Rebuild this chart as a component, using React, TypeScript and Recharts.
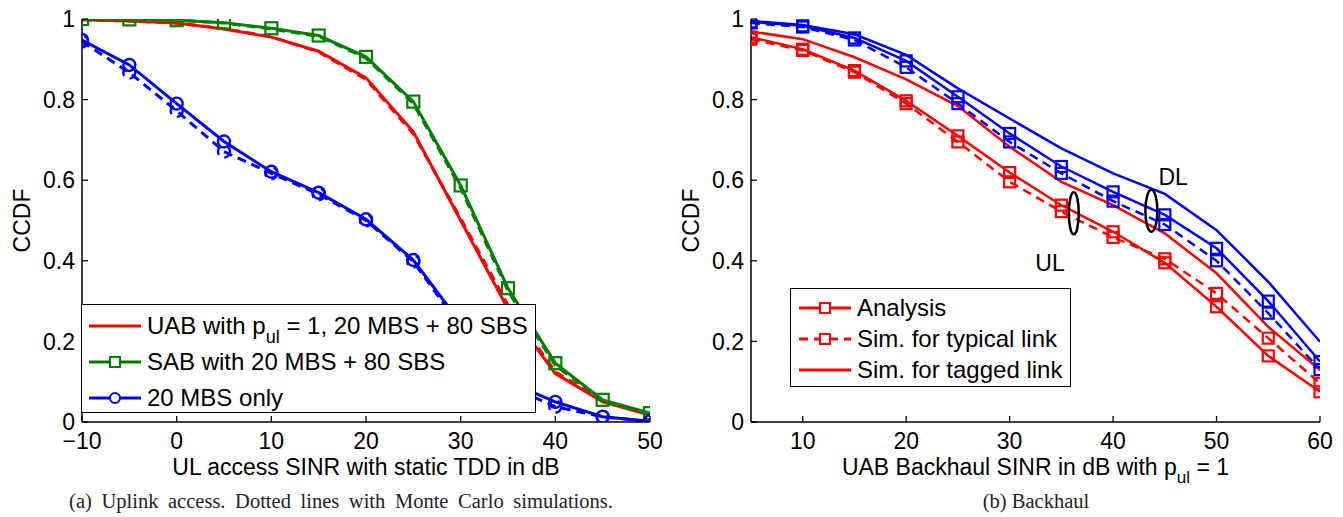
import React from 'react';
import { LineChart, Line, XAxis, YAxis, Legend, ReferenceDot } from 'recharts';

const FONT = '"Liberation Sans", Arial, Helvetica, sans-serif';
const SERIF = '"Liberation Serif", "Times New Roman", serif';
const RED = '#ff0000';
const GREEN = '#008000';
const BLUE = '#0000ff';
const TICK = 6;
const FS = 23;
const LFS = 24;

// ---------- (a) Uplink access ----------
const accessSinr = [-10, -5, 0, 5, 10, 15, 20, 25, 30, 35, 40, 45, 50];
const uabAnalysis = [0.998, 0.995, 0.99, 0.975, 0.955, 0.92, 0.854, 0.72, 0.5, 0.28, 0.12, 0.05, 0.017];
const uabSim = [0.998, 0.995, 0.99, 0.976, 0.956, 0.918, 0.85, 0.715, 0.505, 0.29, 0.125, 0.052, 0.018];
const sabAnalysis = [1.0, 0.999, 0.997, 0.991, 0.977, 0.959, 0.906, 0.795, 0.587, 0.332, 0.146, 0.055, 0.022];
const sabSim = [1.0, 0.999, 0.997, 0.99, 0.975, 0.957, 0.903, 0.79, 0.58, 0.325, 0.14, 0.052, 0.02];
const mbsAnalysis = [0.948, 0.886, 0.79, 0.696, 0.621, 0.569, 0.503, 0.402, 0.245, 0.1, 0.05, 0.013, 0.002];
const mbsSim = [0.944, 0.867, 0.772, 0.671, 0.617, 0.565, 0.5, 0.398, 0.235, 0.09, 0.038, 0.013, 0.001];
const leftXTicks = [-10, 0, 10, 20, 30, 40, 50];
const leftLegendLabels = ['UAB with p', 'SAB with 20 MBS + 80 SBS', '20 MBS only'];

// ---------- (b) Backhaul ----------
const backhaulSinr = [5, 10, 15, 20, 25, 30, 35, 40, 45, 50, 55, 60];
const dlAnalysis = [0.993, 0.983, 0.953, 0.896, 0.807, 0.716, 0.634, 0.571, 0.514, 0.431, 0.3, 0.15];
const dlTypical = [0.99, 0.98, 0.948, 0.88, 0.79, 0.695, 0.617, 0.548, 0.49, 0.4, 0.27, 0.13];
const dlTagged = [0.995, 0.985, 0.962, 0.911, 0.828, 0.753, 0.679, 0.617, 0.566, 0.476, 0.348, 0.199];
const ulAnalysis = [0.955, 0.925, 0.872, 0.797, 0.71, 0.619, 0.538, 0.472, 0.395, 0.286, 0.164, 0.075];
const ulTypical = [0.95, 0.922, 0.868, 0.79, 0.695, 0.596, 0.522, 0.458, 0.405, 0.319, 0.208, 0.096];
const ulTagged = [0.969, 0.95, 0.905, 0.85, 0.784, 0.683, 0.596, 0.538, 0.468, 0.369, 0.236, 0.129];
const rightXTicks = [10, 20, 30, 40, 50, 60];
const rightLegendLabels = ['Analysis', 'Sim. for typical link', 'Sim. for tagged link'];
const ulEllipse = { x: 36.2, y: 0.518 };
const dlEllipse = { x: 43.7, y: 0.524 };
const dlText = { x: 45.8, y: 0.609, label: 'DL' };
const ulText = { x: 33.9, y: 0.394, label: 'UL' };

const yTicks = [0, 0.2, 0.4, 0.6, 0.8, 1];

const leftData = accessSinr.map((x, i) => ({
  x,
  uabA: uabAnalysis[i],
  uabS: uabSim[i],
  sabA: sabAnalysis[i],
  sabS: sabSim[i],
  mbsA: mbsAnalysis[i],
  mbsS: mbsSim[i],
}));

const rightData = backhaulSinr.map((x, i) => ({
  x,
  dlA: dlAnalysis[i],
  dlT: dlTypical[i],
  dlG: dlTagged[i],
  ulA: ulAnalysis[i],
  ulT: ulTypical[i],
  ulG: ulTagged[i],
}));

const fmt = (v: number) => (v < 0 ? '\u2212' + Math.abs(v) : String(v));

const BottomTick = (p: any) => (
  <g>
    <line x1={p.x} y1={p.y} x2={p.x} y2={p.y - TICK} stroke="#000" strokeWidth={1.3} />
    <text x={p.x} y={p.y + 27} textAnchor="middle" fontSize={FS} fontFamily={FONT} fill="#000">
      {fmt(p.payload.value)}
    </text>
  </g>
);
const TopTick = (p: any) => (
  <line x1={p.x} y1={p.y} x2={p.x} y2={p.y + TICK} stroke="#000" strokeWidth={1.3} />
);
const LeftTick = (p: any) => (
  <g>
    <line x1={p.x} y1={p.y} x2={p.x + TICK} y2={p.y} stroke="#000" strokeWidth={1.3} />
    <text x={p.x - 7} y={p.y} dy="0.36em" textAnchor="end" fontSize={FS} fontFamily={FONT} fill="#000">
      {fmt(p.payload.value)}
    </text>
  </g>
);
const RightTick = (p: any) => (
  <line x1={p.x} y1={p.y} x2={p.x - TICK} y2={p.y} stroke="#000" strokeWidth={1.3} />
);

const YLabel = (p: any) => {
  const vb = p.viewBox;
  const x = vb.x + vb.width - 52;
  const y = vb.y + vb.height / 2;
  return (
    <text x={x} y={y} transform={`rotate(-90 ${x} ${y})`} textAnchor="middle" fontSize={FS} fontFamily={FONT} fill="#000">
      CCDF
    </text>
  );
};

const LeftXLabel = (p: any) => {
  const vb = p.viewBox;
  return (
    <text x={vb.x + vb.width / 2} y={vb.y + 53} textAnchor="middle" fontSize={FS} fontFamily={FONT} fill="#000">
      UL access SINR with static TDD in dB
    </text>
  );
};

const RightXLabel = (p: any) => {
  const vb = p.viewBox;
  return (
    <text x={vb.x + vb.width / 2} y={vb.y + 53} textAnchor="middle" fontSize={FS} fontFamily={FONT} fill="#000">
      UAB Backhaul SINR in dB with p
      <tspan dy={8} fontSize={17}>ul</tspan>
      <tspan dy={-8}> = 1</tspan>
    </text>
  );
};

const squareDot = (color: string, size: number) => (p: any) => (
  <rect
    key={p.index}
    x={p.cx - size / 2}
    y={p.cy - size / 2}
    width={size}
    height={size}
    fill="none"
    stroke={color}
    strokeWidth={2.2}
  />
);

const Sym = ({ color, marker, dashed }: { color: string; marker?: 'square' | 'circle'; dashed?: boolean }) => (
  <svg width={52} height={20} style={{ display: 'block', flex: '0 0 auto' }}>
    <line x1={0} y1={10} x2={52} y2={10} stroke={color} strokeWidth={3} strokeDasharray={dashed ? '9 6' : undefined} />
    {marker === 'square' && <rect x={21} y={5} width={10} height={10} fill="#fff" stroke={color} strokeWidth={2} />}
    {marker === 'circle' && <circle cx={26} cy={10} r={5} fill="#fff" stroke={color} strokeWidth={2} />}
  </svg>
);

const rowStyle: React.CSSProperties = { display: 'flex', alignItems: 'center', whiteSpace: 'nowrap' };
const textStyle: React.CSSProperties = { marginLeft: 6, fontSize: LFS, fontFamily: FONT, color: '#000' };

const LeftLegend = () => (
  <div
    style={{
      width: 455,
      height: 109,
      boxSizing: 'border-box',
      border: '1.5px solid #000',
      background: '#fff',
      paddingTop: 3,
      paddingLeft: 7,
    }}
  >
    <div style={{ ...rowStyle, height: 36 }}>
      <Sym color={RED} />
      <span style={textStyle}>
        {leftLegendLabels[0]}
        <span style={{ fontSize: 18, position: 'relative', top: 9 }}>ul</span> = 1, 20 MBS + 80 SBS
      </span>
    </div>
    <div style={{ ...rowStyle, height: 36 }}>
      <Sym color={GREEN} marker="square" />
      <span style={textStyle}>{leftLegendLabels[1]}</span>
    </div>
    <div style={{ ...rowStyle, height: 36 }}>
      <Sym color={BLUE} marker="circle" />
      <span style={textStyle}>{leftLegendLabels[2]}</span>
    </div>
  </div>
);

const RightLegend = () => (
  <div
    style={{
      width: 281,
      height: 99,
      boxSizing: 'border-box',
      border: '1.5px solid #000',
      background: '#fff',
      paddingTop: 3,
      paddingLeft: 8,
    }}
  >
    <div style={{ ...rowStyle, height: 31 }}>
      <Sym color={RED} marker="square" />
      <span style={textStyle}>{rightLegendLabels[0]}</span>
    </div>
    <div style={{ ...rowStyle, height: 31 }}>
      <Sym color={RED} marker="square" dashed />
      <span style={textStyle}>{rightLegendLabels[1]}</span>
    </div>
    <div style={{ ...rowStyle, height: 31 }}>
      <Sym color={RED} />
      <span style={textStyle}>{rightLegendLabels[2]}</span>
    </div>
  </div>
);

const axisLine = { stroke: '#000', strokeWidth: 1.5 };

const captionStyle: React.CSSProperties = {
  position: 'absolute',
  top: 491,
  textAlign: 'center',
  fontFamily: SERIF,
  fontSize: 20.5,
  lineHeight: '20px',
  color: '#222',
  whiteSpace: 'nowrap',
};

export default function App() {
  return (
    <div style={{ position: 'absolute', left: 0, top: 0, width: 1343, height: 517, background: '#fff' }}>
      <div style={{ position: 'absolute', left: 0, top: 0 }}>
        <LineChart width={700} height={517} data={leftData} margin={{ top: 19, right: 50, bottom: 0, left: 0 }}>
          <XAxis
            dataKey="x"
            type="number"
            domain={[-10, 50]}
            ticks={leftXTicks}
            interval={0}
            allowDataOverflow
            height={95}
            tickSize={0}
            tickMargin={0}
            tickLine={false}
            axisLine={axisLine}
            tick={BottomTick}
            label={<LeftXLabel />}
          />
          <XAxis
            xAxisId="top"
            orientation="top"
            dataKey="x"
            type="number"
            domain={[-10, 50]}
            ticks={leftXTicks}
            interval={0}
            allowDataOverflow
            height={0}
            tickSize={0}
            tickMargin={0}
            tickLine={false}
            axisLine={axisLine}
            tick={TopTick}
          />
          <YAxis
            type="number"
            domain={[0, 1]}
            ticks={yTicks}
            interval={0}
            allowDataOverflow
            width={82}
            tickSize={0}
            tickMargin={0}
            tickLine={false}
            axisLine={axisLine}
            tick={LeftTick}
            label={<YLabel />}
          />
          <YAxis
            yAxisId="right"
            orientation="right"
            type="number"
            domain={[0, 1]}
            ticks={yTicks}
            interval={0}
            allowDataOverflow
            width={0}
            tickSize={0}
            tickMargin={0}
            tickLine={false}
            axisLine={axisLine}
            tick={RightTick}
          />
          <Line dataKey="uabS" stroke={RED} strokeWidth={3} strokeDasharray="9 6" dot={false} isAnimationActive={false} />
          <Line dataKey="uabA" stroke={RED} strokeWidth={3} dot={false} isAnimationActive={false} />
          <Line dataKey="sabS" stroke={GREEN} strokeWidth={3} strokeDasharray="9 6" dot={false} isAnimationActive={false} />
          <Line dataKey="sabA" stroke={GREEN} strokeWidth={3} dot={squareDot(GREEN, 12)} isAnimationActive={false} />
          <Line
            dataKey="mbsS"
            stroke={BLUE}
            strokeWidth={3}
            strokeDasharray="9 6"
            dot={{ r: 6, fill: 'none', stroke: BLUE, strokeWidth: 2.4 }}
            isAnimationActive={false}
          />
          <Line
            dataKey="mbsA"
            stroke={BLUE}
            strokeWidth={3}
            dot={{ r: 6, fill: 'none', stroke: BLUE, strokeWidth: 2.4 }}
            isAnimationActive={false}
          />
          <Legend
            layout="vertical"
            align="center"
            verticalAlign="middle"
            wrapperStyle={{ left: 81, top: 304, width: 455, height: 109 }}
            content={() => <LeftLegend />}
          />
        </LineChart>
      </div>

      <div style={{ position: 'absolute', left: 665, top: 0 }}>
        <LineChart width={678} height={517} data={rightData} margin={{ top: 19, right: 23, bottom: 0, left: 0 }}>
          <XAxis
            dataKey="x"
            type="number"
            domain={[5, 60]}
            ticks={rightXTicks}
            interval={0}
            allowDataOverflow
            height={95}
            tickSize={0}
            tickMargin={0}
            tickLine={false}
            axisLine={axisLine}
            tick={BottomTick}
            label={<RightXLabel />}
          />
          <XAxis
            xAxisId="top"
            orientation="top"
            dataKey="x"
            type="number"
            domain={[5, 60]}
            ticks={rightXTicks}
            interval={0}
            allowDataOverflow
            height={0}
            tickSize={0}
            tickMargin={0}
            tickLine={false}
            axisLine={axisLine}
            tick={TopTick}
          />
          <YAxis
            type="number"
            domain={[0, 1]}
            ticks={yTicks}
            interval={0}
            allowDataOverflow
            width={86}
            tickSize={0}
            tickMargin={0}
            tickLine={false}
            axisLine={axisLine}
            tick={LeftTick}
            label={<YLabel />}
          />
          <YAxis
            yAxisId="right"
            orientation="right"
            type="number"
            domain={[0, 1]}
            ticks={yTicks}
            interval={0}
            allowDataOverflow
            width={0}
            tickSize={0}
            tickMargin={0}
            tickLine={false}
            axisLine={axisLine}
            tick={RightTick}
          />
          <Line dataKey="dlG" stroke={BLUE} strokeWidth={2.5} dot={false} isAnimationActive={false} />
          <Line dataKey="dlT" stroke={BLUE} strokeWidth={2.5} strokeDasharray="9 6" dot={squareDot(BLUE, 11)} isAnimationActive={false} />
          <Line dataKey="dlA" stroke={BLUE} strokeWidth={2.5} dot={squareDot(BLUE, 11)} isAnimationActive={false} />
          <Line dataKey="ulG" stroke={RED} strokeWidth={2.5} dot={false} isAnimationActive={false} />
          <Line dataKey="ulT" stroke={RED} strokeWidth={2.5} strokeDasharray="9 6" dot={squareDot(RED, 11)} isAnimationActive={false} />
          <Line dataKey="ulA" stroke={RED} strokeWidth={2.5} dot={squareDot(RED, 11)} isAnimationActive={false} />
          <ReferenceDot
            x={ulEllipse.x}
            y={ulEllipse.y}
            r={0}
            shape={(p: any) => <ellipse cx={p.cx} cy={p.cy} rx={5} ry={21} fill="none" stroke="#000" strokeWidth={2.5} />}
          />
          <ReferenceDot
            x={dlEllipse.x}
            y={dlEllipse.y}
            r={0}
            shape={(p: any) => <ellipse cx={p.cx} cy={p.cy} rx={6} ry={21} fill="none" stroke="#000" strokeWidth={2.5} />}
          />
          <ReferenceDot
            x={dlText.x}
            y={dlText.y}
            r={0}
            shape={(p: any) => (
              <text x={p.cx} y={p.cy} dy="0.36em" textAnchor="middle" fontSize={FS} fontFamily={FONT} fill="#000">
                {dlText.label}
              </text>
            )}
          />
          <ReferenceDot
            x={ulText.x}
            y={ulText.y}
            r={0}
            shape={(p: any) => (
              <text x={p.cx} y={p.cy} dy="0.36em" textAnchor="middle" fontSize={FS} fontFamily={FONT} fill="#000">
                {ulText.label}
              </text>
            )}
          />
          <Legend
            layout="vertical"
            align="center"
            verticalAlign="middle"
            wrapperStyle={{ left: 125, top: 288, width: 281, height: 99 }}
            content={() => <RightLegend />}
          />
        </LineChart>
      </div>

      <div style={{ ...captionStyle, left: 41, width: 600, wordSpacing: 4.5 }}>
        (a) Uplink access. Dotted lines with Monte Carlo simulations.
      </div>
      <div style={{ ...captionStyle, left: 836, width: 400 }}>(b) Backhaul</div>
    </div>
  );
}
